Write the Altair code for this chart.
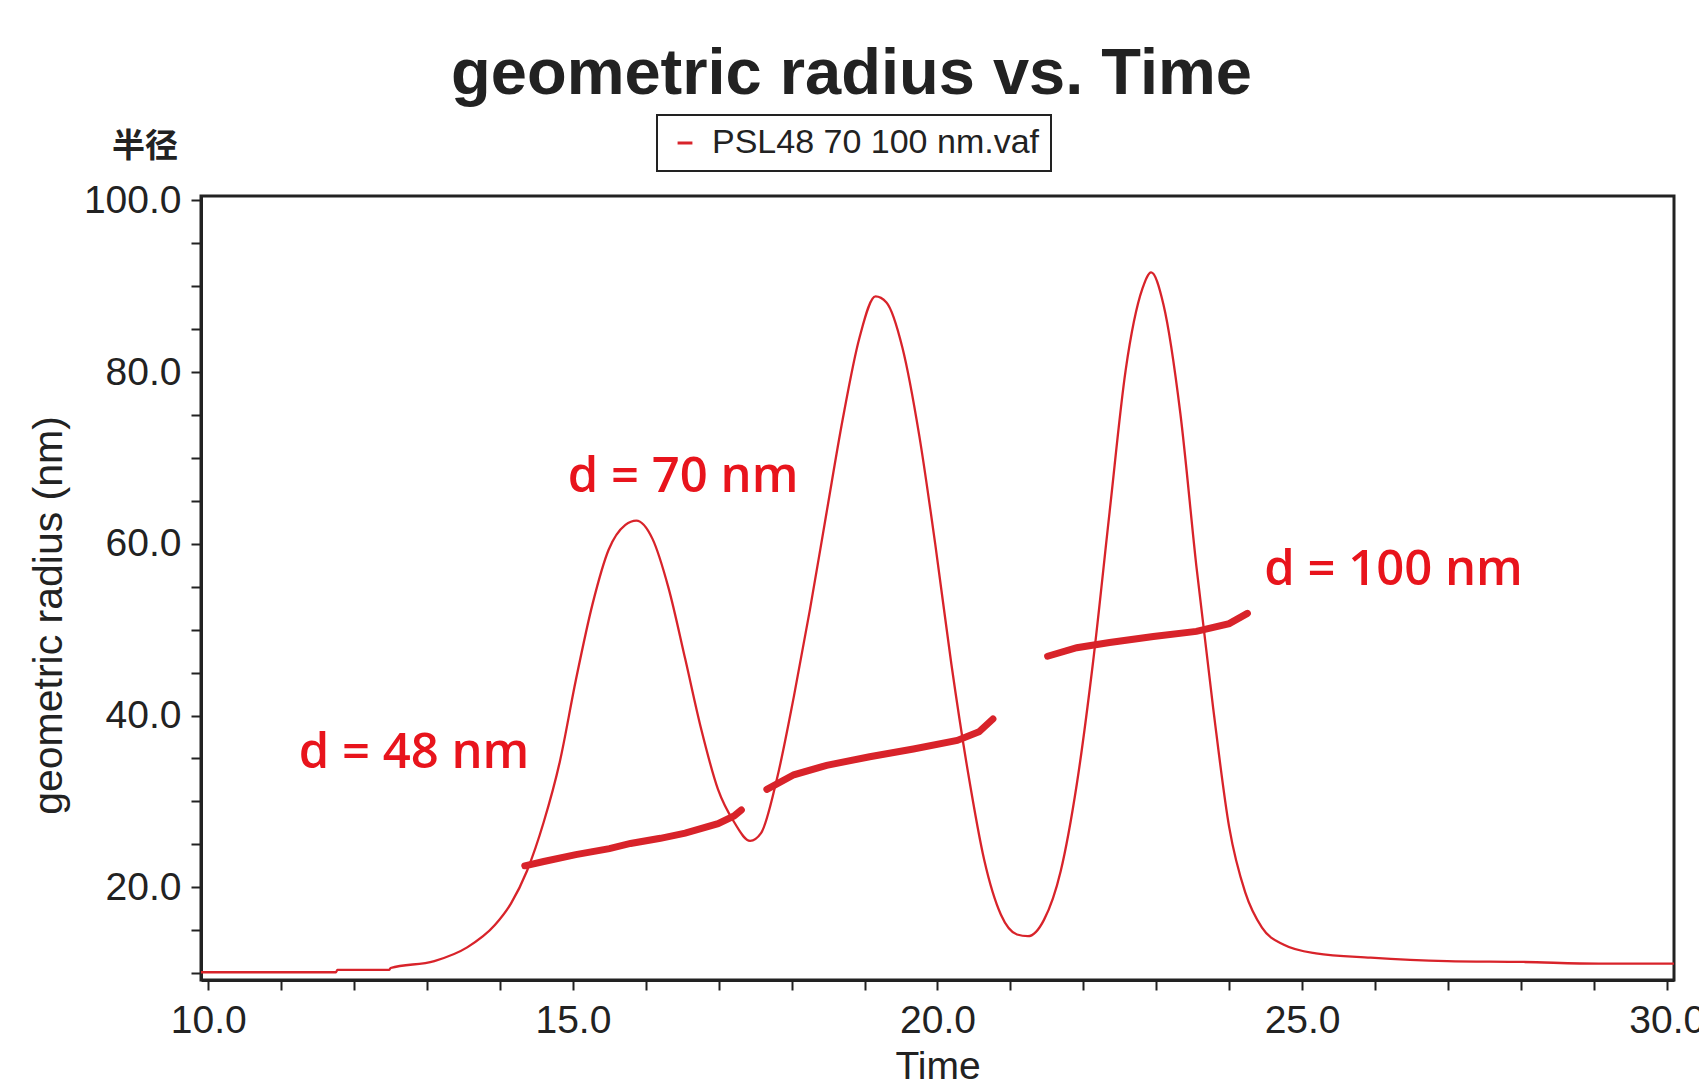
import altair as alt
import pandas as pd

# main trace (Time, geometric radius)
main_t = [9.9, 11.75, 11.77, 12.48, 12.5, 13.1, 13.55, 13.93, 14.15, 14.37, 14.6, 14.82, 15.04, 15.27,
          15.49, 15.72, 15.87, 16.09, 16.31, 16.54, 16.76, 16.99, 17.21, 17.43, 17.58, 17.8,
          18.03, 18.25, 18.48, 18.7, 18.93, 19.15, 19.3, 19.52, 19.75, 19.97, 20.19, 20.42,
          20.64, 20.87, 21.09, 21.24, 21.46, 21.69, 21.91, 22.13, 22.36, 22.58, 22.81, 22.93,
          23.1, 23.33, 23.55, 23.78, 24.0, 24.22, 24.45, 24.75, 25.19, 25.94, 26.99, 28.03,
          29.07, 30.1]
main_r = [10.1, 10.1, 10.37, 10.37, 10.6, 11.4, 13.0, 15.6, 18.1, 21.9, 27.6, 34.6, 44.1, 53.0,
          59.3, 62.2, 62.7, 60.6, 54.9, 46.6, 38.4, 31.4, 27.6, 25.4, 26.3, 32.7,
          42.2, 52.3, 63.7, 74.5, 84.0, 88.8, 88.1, 82.8, 72.6, 59.9, 46.0, 33.3,
          23.2, 16.8, 14.5, 14.3, 16.2, 21.9, 32.0, 46.0, 63.7, 80.2, 89.7, 91.6,
          87.8, 75.2, 57.4, 40.9, 27.0, 19.4, 15.3, 13.3, 12.3, 11.8, 11.4, 11.3,
          11.1, 11.1]

# radius segments
seg1_t = [14.34, 14.6, 15.04, 15.5, 15.79, 16.2, 16.54, 16.99, 17.21, 17.31]
seg1_r = [22.5, 23.0, 23.8, 24.5, 25.1, 25.7, 26.3, 27.4, 28.3, 29.0]
seg2_t = [17.66, 18.03, 18.48, 19.07, 19.67, 20.27, 20.57, 20.76]
seg2_r = [31.4, 33.1, 34.2, 35.2, 36.1, 37.1, 38.1, 39.6]
seg3_t = [21.51, 21.91, 22.36, 22.96, 23.55, 24.0, 24.25]
seg3_r = [46.9, 47.9, 48.5, 49.2, 49.8, 50.7, 51.9]

ann_labels = ["d = 48 nm", "d = 70 nm", "d = 100 nm"]
ann_t = [11.24, 14.93, 24.48]
ann_r = [35.6, 67.8, 56.9]

series_name = "PSL48 70 100 nm.vaf"
RED = "#d8232a"
TXT = "#222222"

df_main = pd.DataFrame({"t": main_t, "r": main_r, "series": series_name})
df_seg = pd.concat([
    pd.DataFrame({"t": seg1_t, "r": seg1_r, "seg": "1"}),
    pd.DataFrame({"t": seg2_t, "r": seg2_r, "seg": "2"}),
    pd.DataFrame({"t": seg3_t, "r": seg3_r, "seg": "3"}),
])
df_ann = pd.DataFrame({"t": ann_t, "r": ann_r, "label": ann_labels})

xscale = alt.Scale(domain=[9.9, 30.1], nice=False, zero=False)
yscale = alt.Scale(domain=[9.2, 100.5], nice=False, zero=False)

x_axis = alt.Axis(
    values=list(range(10, 31)),
    labelExpr="datum.value % 5 == 0 ? format(datum.value, '.1f') : ''",
    title="Time", titlePadding=7, labelPadding=11, labelFlush=False,
)
y_axis = alt.Axis(
    values=list(range(10, 101, 5)),
    labelExpr="datum.value % 20 == 0 ? format(datum.value, '.1f') : ''",
    title="geometric radius (nm)", titleAngle=-90, titleX=-152, titleY=419,
    titleAlign="center", titleBaseline="middle", labelPadding=10, titleFontSize=41,
)

main = alt.Chart(df_main).mark_line(strokeWidth=2.3, interpolate="monotone").encode(
    x=alt.X("t:Q", scale=xscale, axis=x_axis),
    y=alt.Y("r:Q", scale=yscale, axis=y_axis),
    color=alt.Color("series:N", scale=alt.Scale(range=[RED]),
                    legend=alt.Legend(orient="none", legendX=456, legendY=-81, title=None,
                                      strokeColor=TXT, padding=11, labelFontSize=34,
                                      labelColor=TXT, symbolType="stroke", symbolStrokeWidth=3,
                                      symbolSize=220, labelOffset=10, labelLimit=1000)),
)

segs = alt.Chart(df_seg).mark_line(strokeWidth=7, strokeCap="round", color=RED).encode(
    x="t:Q", y="r:Q", detail="seg:N"
)

ann = alt.Chart(df_ann).mark_text(
    align="left", baseline="middle", fontSize=49, fontWeight=600, font="Open Sans", color="#e8141c"
).encode(x="t:Q", y="r:Q", text="label:N")

unit = alt.Chart(pd.DataFrame({"label": ["半径"]})).mark_text(
    align="center", baseline="middle", fontSize=33, fontWeight="bold",
    font="Noto Sans CJK SC", color=TXT
).encode(x=alt.value(-56), y=alt.value(-49), text="label:N")

chart = alt.layer(main, segs, ann, unit).properties(
    width=1473, height=784,
    padding={"left": 193, "top": 188, "right": 25, "bottom": 100},
    autosize=alt.AutoSizeParams(type="none"),
    title=alt.TitleParams("geometric radius vs. Time", fontSize=65, fontWeight="bold",
                          font="Liberation Sans", color=TXT, anchor="middle", dx=-86,
                          offset=10, dy=55, baseline="alphabetic"),
).configure(font="Liberation Sans").configure_view(
    stroke=TXT, strokeWidth=3
).configure_axis(
    domainColor=TXT, domainWidth=3, tickColor=TXT, tickWidth=2, tickSize=10,
    labelFontSize=39, labelColor=TXT, titleFontSize=39, titleColor=TXT,
    titleFontWeight="normal", grid=False,
).configure_legend(strokeWidth=2)

chart.save("out.html", embed_options={"renderer": "svg", "actions": False})
